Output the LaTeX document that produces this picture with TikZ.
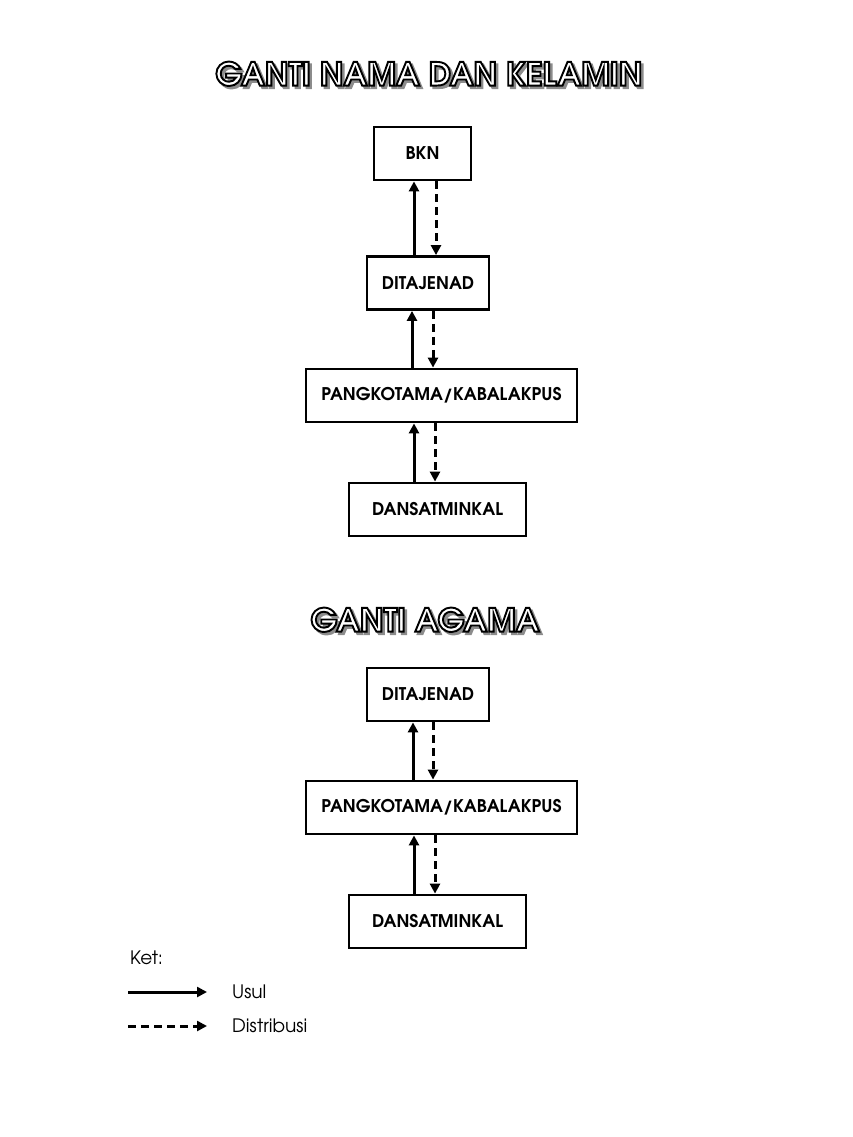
\documentclass[tikz,border=0pt]{standalone}
\usepackage{fontspec}
\setmainfont{texgyreadventor}[Extension=.otf, UprightFont=*-regular, BoldFont=*-bold, ItalicFont=*-italic, BoldItalicFont=*-bolditalic]
\usetikzlibrary{arrows.meta}
\tikzset{
  box/.style={draw, line width=2.8pt, minimum height=53pt, inner sep=0pt, font=\bfseries\fontsize{17.5}{20}\selectfont},
  usul/.style={line width=3pt, -{Triangle[width=10pt,length=10pt]}},
  distr/.style={usul, dash pattern=on 8pt off 5pt},
  ttl/.style={font=\bfseries\fontsize{32}{38}\selectfont, inner sep=0pt},
  legtext/.style={font=\fontsize{18.5}{22}\selectfont, anchor=west, inner sep=0pt},
}
\newcommand{\outl}[1]{{\color{white}\special{pdf:literal direct 0 G 2 Tr 1.9 w}#1\special{pdf:literal direct 0 Tr}}}
\newcommand{\shad}[1]{{\color{black!45}\special{pdf:literal direct 0.55 G 2 Tr 1.9 w}#1\special{pdf:literal direct 0 Tr}}}
\newcommand{\fancytitle}[1]{\makebox[0pt][l]{\hspace{2.5pt}\raisebox{-2.5pt}{\shad{#1}}}\outl{#1}}
\begin{document}
\begin{tikzpicture}[x=1pt,y=-1pt]
\useasboundingbox (0,0) rectangle (853,1137);
% titles
\node[ttl] (t1) at (429,75) {\fancytitle{GANTI NAMA DAN KELAMIN}};
\node[ttl] (t2) at (425,621) {\fancytitle{GANTI AGAMA}};
% top chart
\node[box, minimum width=97pt] (bkn) at (422.5,153.5) {BKN};
\node[box, minimum width=122pt] (dita1) at (428,283) {DITAJENAD};
\node[box, minimum width=271pt] (pang1) at (441.5,395.5) {PANGKOTAMA/KABALAKPUS};
\node[box, minimum width=177pt] (dans1) at (437.5,509.5) {DANSATMINKAL};
\draw[usul] ([xshift=-14pt]dita1.north) -- ([xshift=-8.5pt]bkn.south);
\draw[distr] ([xshift=13.5pt]bkn.south) -- ([xshift=8pt]dita1.north);
\draw[usul] ([xshift=-29.5pt]pang1.north) -- ([xshift=-16pt]dita1.south);
\draw[distr] ([xshift=5pt]dita1.south) -- ([xshift=-8.5pt]pang1.north);
\draw[usul] ([xshift=-23.5pt]dans1.north) -- ([xshift=-27.5pt]pang1.south);
\draw[distr] ([xshift=-6.5pt]pang1.south) -- ([xshift=-2.5pt]dans1.north);
% bottom chart
\node[box, minimum width=122pt] (dita2) at (428,694.5) {DITAJENAD};
\node[box, minimum width=271pt] (pang2) at (441.5,807.5) {PANGKOTAMA/KABALAKPUS};
\node[box, minimum width=177pt] (dans2) at (437.5,921.5) {DANSATMINKAL};
\draw[usul] ([xshift=-28.5pt]pang2.north) -- ([xshift=-15pt]dita2.south);
\draw[distr] ([xshift=5pt]dita2.south) -- ([xshift=-8.5pt]pang2.north);
\draw[usul] ([xshift=-23.5pt]dans2.north) -- ([xshift=-27.5pt]pang2.south);
\draw[distr] ([xshift=-6.5pt]pang2.south) -- ([xshift=-2.5pt]dans2.north);
% legend
\node[legtext] (ket) at (130,958) {Ket:};
\coordinate (u1) at (128,992);
\coordinate (u2) at (207,992);
\coordinate (d1) at (128,1026);
\coordinate (d2) at (207,1026);
\draw[usul] (u1) -- (u2);
\draw[distr] (d1) -- (d2);
\node[legtext] (usul) at (232,992) {Usul};
\node[legtext] (dist) at (232,1026) {Distribusi};
\end{tikzpicture}
\end{document}
